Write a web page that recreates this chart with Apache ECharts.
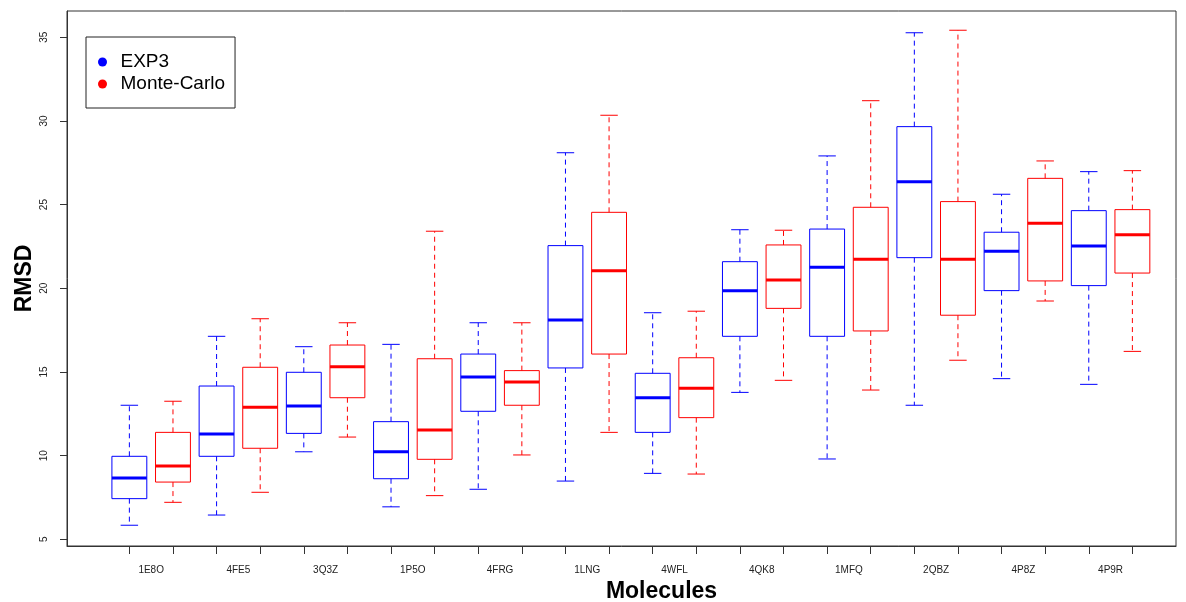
<!DOCTYPE html>
<html><head><meta charset="utf-8">
<script src="https://cdn.jsdelivr.net/npm/echarts@6/dist/echarts.min.js"></script>
<style>html,body{margin:0;padding:0;background:#fff}#c{width:1186px;height:602px}</style>
</head><body><div id="c"></div>
<script>
const categories = ['1E8O','4FE5','3Q3Z','1P5O','4FRG','1LNG','4WFL','4QK8','1MFQ','2QBZ','4P8Z','4P9R'];
// each entry: [lower whisker, Q1, median, Q3, upper whisker]
const exp3Stats = [
  [5.84, 7.43, 8.66, 9.96, 13.01],
  [6.45, 9.96, 11.29, 14.16, 17.13],
  [10.23, 11.33, 12.97, 14.98, 16.51],
  [6.94, 8.62, 10.23, 12.03, 16.65],
  [7.99, 12.65, 14.70, 16.07, 17.94],
  [8.48, 15.24, 18.11, 22.55, 28.10],
  [8.94, 11.39, 13.46, 14.92, 18.54],
  [13.78, 17.13, 19.86, 21.59, 23.50],
  [9.80, 17.13, 21.25, 23.54, 27.91],
  [13.01, 21.83, 26.37, 29.66, 35.27],
  [14.60, 19.86, 22.21, 23.35, 25.62],
  [14.26, 20.16, 22.53, 24.64, 26.97]
];
const monteCarloStats = [
  [7.21, 8.42, 9.38, 11.39, 13.25],
  [7.81, 10.44, 12.89, 15.28, 18.18],
  [11.11, 13.46, 15.31, 16.61, 17.94],
  [7.61, 9.78, 11.53, 15.79, 23.41],
  [10.04, 13.01, 14.40, 15.08, 17.94],
  [11.39, 16.07, 21.05, 24.54, 30.34],
  [8.90, 12.27, 14.02, 15.85, 18.63],
  [14.50, 18.80, 20.50, 22.59, 23.47],
  [13.92, 17.45, 21.73, 24.84, 31.21],
  [15.70, 18.39, 21.73, 25.18, 35.42],
  [19.24, 20.44, 23.88, 26.57, 27.61],
  [16.23, 20.91, 23.20, 24.70, 27.03]
];
const yTickValues = [5, 10, 15, 20, 25, 30, 35];
const seriesNames = ['EXP3', 'Monte-Carlo'];

const FONT = 'Liberation Sans, Arial, sans-serif';
const BLUE = '#0000ff', RED = '#ff0000';

// box positions: EXP3 at 2i+1, Monte-Carlo at 2i+2
const expData = exp3Stats.map((s, i) => [2 * i + 1].concat(s));
const mcData = monteCarloStats.map((s, i) => [2 * i + 2].concat(s));
const boxTicks = [];
for (let i = 0; i < categories.length * 2; i++) boxTicks.push(i + 1);
const labelPos = categories.map((c, i) => 2 * i + 1.5);

function renderBox(color) {
  return function (params, api) {
    const x = api.value(0);
    const pLo = api.coord([x, api.value(1)]);
    const pQ1 = api.coord([x, api.value(2)]);
    const pMed = api.coord([x, api.value(3)]);
    const pQ3 = api.coord([x, api.value(4)]);
    const pHi = api.coord([x, api.value(5)]);
    const w = api.size([0.8, 0])[0];
    const cw = api.size([0.4, 0])[0];
    const cx = pLo[0];
    const solid = { stroke: color, lineWidth: 1 };
    const dash = { stroke: color, lineWidth: 1, lineDash: [5, 4] };
    return {
      type: 'group',
      children: [
        { type: 'line', shape: { x1: cx, y1: pQ3[1], x2: cx, y2: pHi[1] }, style: dash },
        { type: 'line', shape: { x1: cx, y1: pQ1[1], x2: cx, y2: pLo[1] }, style: dash },
        { type: 'line', shape: { x1: cx - cw / 2, y1: pHi[1], x2: cx + cw / 2, y2: pHi[1] }, style: solid },
        { type: 'line', shape: { x1: cx - cw / 2, y1: pLo[1], x2: cx + cw / 2, y2: pLo[1] }, style: solid },
        { type: 'rect', shape: { x: cx - w / 2, y: pQ3[1], width: w, height: pQ1[1] - pQ3[1] },
          style: { stroke: color, lineWidth: 1, fill: 'rgba(0,0,0,0)' } },
        { type: 'line', shape: { x1: cx - w / 2, y1: pMed[1], x2: cx + w / 2, y2: pMed[1] },
          style: { stroke: color, lineWidth: 3 } }
      ]
    };
  };
}

const chart = echarts.init(document.getElementById('c'), null, { renderer: 'canvas' });
chart.setOption({
  animation: false,
  backgroundColor: '#fff',
  grid: { left: 67, right: 10, top: 11, bottom: 56, show: true, borderColor: '#333', borderWidth: 1,
          outerBoundsMode: 'none', containLabel: false },
  legend: {
    orient: 'vertical', left: 86, top: 37,
    padding: [15, 10, 14, 12],
    itemGap: 2, itemWidth: 26, itemHeight: 9,
    borderColor: '#222', borderWidth: 1,
    textStyle: { fontFamily: FONT, fontSize: 19, color: '#000', lineHeight: 20 },
    data: [{ name: seriesNames[0], icon: 'circle' }, { name: seriesNames[1], icon: 'circle' }]
  },
  xAxis: {
    type: 'value', min: -0.43, max: 25.0,
    name: 'Molecules', nameLocation: 'middle', nameGap: 34, nameMoveOverlap: false,
    nameTextStyle: { fontFamily: FONT, fontSize: 23, fontWeight: 'bold', color: '#000', padding: [0, 0, 0, 80] },
    axisLine: { show: true, onZero: false, lineStyle: { color: '#333' } },
    axisTick: { show: true, length: 8, customValues: boxTicks, lineStyle: { color: '#333' } },
    axisLabel: {
      customValues: labelPos, margin: 19, fontFamily: FONT, fontSize: 10, color: '#222',
      formatter: v => categories[Math.round((v - 1.5) / 2)]
    },
    splitLine: { show: false }
  },
  yAxis: {
    type: 'value', min: 4.6, max: 36.57,
    name: 'RMSD', nameLocation: 'middle', nameGap: 31, nameMoveOverlap: false,
    nameTextStyle: { fontFamily: FONT, fontSize: 23, fontWeight: 'bold', color: '#000' },
    axisLine: { show: true, onZero: false, lineStyle: { color: '#333' } },
    axisTick: { show: true, length: 7, customValues: yTickValues, lineStyle: { color: '#333' } },
    axisLabel: { customValues: yTickValues, rotate: 90, margin: 18, fontFamily: FONT, fontSize: 10, color: '#222' },
    splitLine: { show: false }
  },
  series: [
    { name: seriesNames[0], type: 'custom', renderItem: renderBox(BLUE), itemStyle: { color: BLUE },
      encode: { x: 0, y: [1, 2, 3, 4, 5] }, data: expData },
    { name: seriesNames[1], type: 'custom', renderItem: renderBox(RED), itemStyle: { color: RED },
      encode: { x: 0, y: [1, 2, 3, 4, 5] }, data: mcData }
  ]
});
</script>
</body></html>
